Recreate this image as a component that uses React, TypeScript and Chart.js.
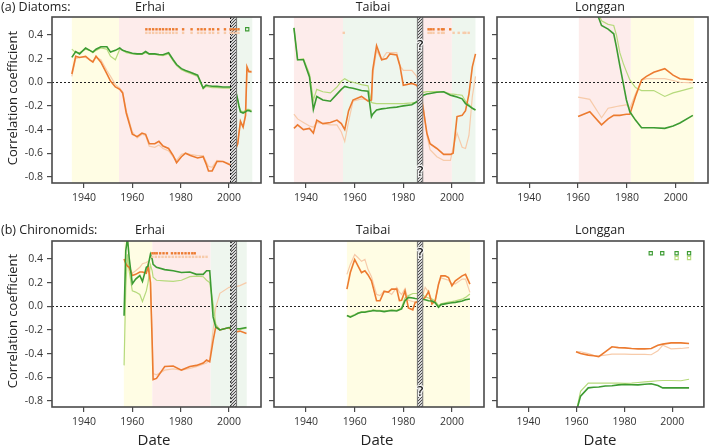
import React, { useEffect, useRef } from "react";
import { Chart, registerables } from "chart.js";
Chart.register(...registerables);

const W = 709;
const H = 446;
const X_MIN = 1926.8;
const X_MAX = 2013.2;
const Y_MIN = -0.852;
const Y_MAX = 0.552;
const xTicks = [1940, 1960, 1980, 2000];
const yTicks = [-0.8, -0.6, -0.4, -0.2, 0, 0.2, 0.4];

// ---------- (a) Diatoms, Erhai ----------
const p1Years = [1935, 1936.6, 1938.2, 1940.7, 1942.4, 1943.7, 1945, 1947, 1949.5, 1951, 1953, 1954.8, 1956, 1957.5, 1960, 1962, 1964, 1965.5, 1967, 1969.3, 1971, 1972.7, 1975, 1976.9, 1978.3, 1980.3, 1982, 1984, 1987, 1989.3, 1990.5, 1991.5, 1993, 1995, 1997.5, 2000.5, 2001.7, 2003, 2003.6, 2004.1, 2004.7, 2005.8, 2006.8, 2007.4, 2008.2, 2009.3];
const p1DarkOrange = [0.07, 0.22, 0.21, 0.22, 0.19, 0.17, 0.22, 0.17, 0.07, 0.01, -0.04, -0.06, -0.09, -0.26, -0.44, -0.46, -0.43, -0.44, -0.52, -0.52, -0.5, -0.54, -0.56, -0.62, -0.68, -0.63, -0.6, -0.62, -0.64, -0.63, -0.69, -0.75, -0.75, -0.67, -0.67, -0.7, -0.7, -0.55, -0.52, -0.43, -0.33, -0.38, -0.28, 0.13, 0.09, 0.09];
const p1LightOrange = [0.05, 0.2, 0.21, 0.21, 0.19, 0.18, 0.21, 0.19, 0.1, 0.05, -0.02, -0.05, -0.08, -0.24, -0.42, -0.47, -0.44, -0.45, -0.54, -0.55, -0.53, -0.56, -0.58, -0.63, -0.66, -0.61, -0.6, -0.61, -0.62, -0.62, -0.67, -0.71, -0.72, -0.66, -0.67, -0.69, -0.69, -0.56, -0.5, -0.42, -0.34, -0.37, -0.29, 0.1, 0.09, 0.08];
const p1DarkGreen = [0.21, 0.26, 0.24, 0.29, 0.27, 0.255, 0.28, 0.3, 0.3, 0.255, 0.27, 0.29, 0.27, 0.26, 0.245, 0.24, 0.24, 0.26, 0.24, 0.24, 0.235, 0.233, 0.25, 0.19, 0.15, 0.115, 0.1, 0.085, 0.06, -0.05, -0.025, -0.03, -0.034, -0.035, -0.04, -0.04, -0.045, -0.095, -0.15, -0.2, -0.25, -0.26, -0.25, -0.24, -0.24, -0.25];
const p1LightGreen = [0.28, 0.25, 0.25, 0.28, 0.27, 0.25, 0.27, 0.29, 0.28, 0.22, 0.19, 0.28, 0.27, 0.25, 0.24, 0.235, 0.235, 0.25, 0.235, 0.235, 0.23, 0.225, 0.24, 0.18, 0.14, 0.105, 0.09, 0.075, 0.05, -0.055, -0.035, -0.04, -0.045, -0.045, -0.05, -0.05, -0.05, -0.1, -0.16, -0.21, -0.24, -0.25, -0.24, -0.23, -0.23, -0.24];
const p1SigOrange = [1965.8, 1967.2, 1968.6, 1970.0, 1971.4, 1972.7, 1974.1, 1975.5, 1976.9, 1978.3, 1981.0, 1984.5, 1987.2, 1988.6, 1990.0, 1992.0, 1993.4, 1995.5, 1998.3, 2000.6, 2001.7, 2002.8, 2003.9];
const p1SigGreen = [2007.5];
const p1Bands: [number, number, string][] = [[1935, 1954.5, "yellow"], [1954.5, 2000.6, "pink"], [2003.1, 2009.6, "mint"]];
const p1Hatch: [number, number][] = [[2000.6, 2003.1]];

// ---------- (a) Diatoms, Taibai ----------
const p2Years = [1935, 1936.5, 1938.9, 1941.4, 1943, 1944.4, 1946.9, 1950, 1952.7, 1954.5, 1955.9, 1957.5, 1959.3, 1962.8, 1965.5, 1966.9, 1967.4, 1969, 1971.1, 1973.1, 1974.5, 1977.3, 1978.6, 1980, 1983.5, 1985.5, 1986.9, 1988.3, 1989.7, 1991, 1993.8, 1996.6, 1999.4, 2000.5, 2002.1, 2004.2, 2005.6, 2007, 2008.4, 2009.7];
const p2DarkOrange = [-0.39, -0.36, -0.4, -0.39, -0.43, -0.32, -0.35, -0.34, -0.32, -0.35, -0.4, -0.24, -0.15, -0.12, -0.16, -0.15, 0.1, 0.31, 0.19, 0.2, 0.24, 0.23, 0.14, -0.025, -0.01, -0.025, -0.08, -0.24, -0.43, -0.52, -0.56, -0.61, -0.61, -0.6, -0.29, -0.28, -0.24, -0.1, 0.13, 0.24];
const p2LightOrange = [-0.27, -0.31, -0.34, -0.37, -0.38, -0.34, -0.35, -0.36, -0.36, -0.42, -0.5, -0.33, -0.16, -0.14, -0.15, -0.14, 0.06, 0.27, 0.19, 0.25, 0.25, 0.25, 0.14, 0.1, 0.1, 0.05, -0.04, -0.21, -0.45, -0.57, -0.63, -0.66, -0.66, -0.55, -0.43, -0.55, -0.56, -0.45, -0.12, 0.05];
const p2DarkGreen = [0.46, 0.19, 0.19, 0.045, -0.23, -0.12, -0.15, -0.16, -0.1, -0.06, -0.035, -0.045, -0.05, -0.07, -0.075, -0.29, -0.27, -0.235, -0.225, -0.22, -0.215, -0.21, -0.205, -0.2, -0.19, -0.165, -0.14, -0.11, -0.1, -0.095, -0.085, -0.08, -0.11, -0.115, -0.125, -0.14, -0.18, -0.2, -0.22, -0.235];
const p2LightGreen = [0.46, 0.19, 0.2, 0.07, -0.15, -0.06, -0.08, -0.09, -0.04, 0.01, 0.03, 0.01, 0, -0.02, -0.03, -0.17, -0.175, -0.18, -0.18, -0.18, -0.18, -0.18, -0.18, -0.18, -0.175, -0.17, -0.11, -0.085, -0.08, -0.08, -0.08, -0.08, -0.1, -0.1, -0.105, -0.11, -0.16, -0.19, -0.22, -0.235];
const p2SigOrange = [1990.4, 1991.3, 1992.4, 1994.5, 1995.9, 1996.6, 1999.3];
const p2SigLightOrange = [1955.5, 1990.4, 1991.3, 1992.4, 1994.5, 1995.9, 1996.6, 2000.7, 2002.8, 2004.8, 2005.5, 2006.9];
const p2Bands: [number, number, string][] = [[1935, 1955.2, "pink"], [1955.2, 1985.8, "mint"], [1988, 2000, "pink"], [2000, 2009.7, "mint"]];
const p2Hatch: [number, number][] = [[1985.8, 1988]];
const p2Questions: [number, number][] = [[1987.0, 0.3], [1987.0, -0.76]];

// ---------- (a) Diatoms, Longgan ----------
const p3Years = [1960, 1964.8, 1969.6, 1972.3, 1974.6, 1975.7, 1977.1, 1978.5, 1979.8, 1981.2, 1983.5, 1986, 1988, 1991, 1995.5, 1998.9, 2001.7, 2007];
const p3DarkOrange = [-0.29, -0.25, -0.36, -0.31, -0.28, -0.28, -0.28, -0.275, -0.27, -0.27, -0.12, 0.02, 0.05, 0.085, 0.115, 0.06, 0.03, 0.02];
const p3LightOrange = [-0.125, -0.145, -0.3, -0.22, -0.21, -0.205, -0.2, -0.195, -0.19, -0.22, -0.1, 0.015, 0.03, 0.03, 0.03, 0.015, 0, -0.005];
const p3DarkGreen = [0.9, 0.75, 0.48, 0.45, 0.41, 0.3, 0.14, -0.01, -0.15, -0.25, -0.32, -0.385, -0.385, -0.385, -0.39, -0.37, -0.345, -0.28];
const p3LightGreen = [0.9, 0.78, 0.52, 0.49, 0.48, 0.4, 0.25, 0.16, 0.09, 0.02, -0.045, -0.07, -0.07, -0.07, -0.12, -0.09, -0.075, -0.045];
const p3Bands: [number, number, string][] = [[1960.3, 1981.6, "pink"], [1981.6, 2007.5, "yellow"]];

// ---------- (b) Chironomids, Erhai ----------
const p4Years = [1956.6, 1957.3, 1958, 1958.7, 1960, 1961.4, 1963.1, 1964.2, 1965.8, 1966.5, 1967.5, 1968.2, 1968.6, 1970, 1973.4, 1976.9, 1980.3, 1983.8, 1986.5, 1989.3, 1990.7, 1992, 1993.4, 1994.5, 1996.2, 2000, 2001.7, 2004.5, 2007.2];
const p4DarkGreen = [-0.08, 0.47, 0.58, 0.41, 0.19, 0.23, 0.26, 0.21, 0.33, 0.34, 0.44, 0.4, 0.355, 0.33, 0.31, 0.3, 0.285, 0.29, 0.27, 0.27, 0.3, 0.3, -0.09, -0.175, -0.2, -0.18, -0.19, -0.19, -0.18];
const p4LightGreen = [-0.5, 0.16, 0.44, 0.3, 0.13, 0.12, 0.1, 0.04, 0.13, 0.2, 0.35, 0.3, 0.245, 0.22, 0.215, 0.21, 0.22, 0.25, 0.255, 0.25, 0.22, 0.2, 0.02, -0.15, -0.2, -0.18, -0.185, -0.195, -0.185];
const p4DarkOrange = [0.4, 0.36, 0.34, 0.33, 0.26, 0.27, 0.29, 0.29, 0.28, 0.34, 0.2, -0.3, -0.62, -0.61, -0.51, -0.505, -0.54, -0.51, -0.5, -0.48, -0.455, -0.47, -0.29, -0.175, -0.2, -0.18, -0.22, -0.21, -0.23];
const p4LightOrange = [0.4, 0.37, 0.35, 0.34, 0.28, 0.3, 0.33, 0.36, 0.37, 0.38, 0.25, -0.25, -0.57, -0.58, -0.54, -0.53, -0.54, -0.525, -0.51, -0.49, -0.48, -0.45, -0.2, -0.01, 0.11, 0.16, 0.16, 0.175, 0.2];
const p4SigOrange = [1968.3, 1969.2, 1970.1, 1971.5, 1972.9, 1974.3, 1976.4, 1977.8, 1979.2, 1980.6, 1982.0, 1983.4, 1984.8, 1985.8];
const p4SigLightOrange = [1968.3, 1969.7, 1971.1, 1972.5, 1973.9, 1975.3, 1976.7, 1978.1, 1979.5, 1980.9, 1982.3, 1983.7, 1985.1, 1986.5, 1987.9, 1989.3, 1990.7];
const p4Bands: [number, number, string][] = [[1956.5, 1968.3, "yellow"], [1968.3, 1992.4, "pink"], [1992.4, 2007.3, "mint"]];
const p4Hatch: [number, number][] = [[2000.7, 2003.1]];

// ---------- (b) Chironomids, Taibai ----------
const p5Years = [1956.8, 1958.2, 1960, 1961.4, 1962.8, 1964.2, 1965.5, 1966.9, 1967.6, 1969, 1970.4, 1972.1, 1973.8, 1975.2, 1977.3, 1978.4, 1979.3, 1980.7, 1982.1, 1983.9, 1984.9, 1986.9, 1989, 1990.4, 1991.8, 1993.1, 1994.5, 1995.5, 1997.2, 1998.6, 2000, 2001.4, 2004.2, 2005.6, 2007.4];
const p5DarkOrange = [0.145, 0.285, 0.396, 0.34, 0.285, 0.3, 0.265, 0.215, 0.16, 0.047, 0.047, 0.125, 0.12, 0.145, 0.145, 0.047, 0.05, 0.13, -0.014, -0.03, 0.033, 0.045, 0.075, 0.125, 0.02, 0.045, 0.187, 0.257, 0.257, 0.243, 0.173, 0.215, 0.257, 0.27, 0.187];
const p5LightOrange = [0.27, 0.354, 0.438, 0.41, 0.38, 0.396, 0.31, 0.25, 0.2, 0.1, 0.09, 0.13, 0.12, 0.1, 0.16, 0.12, 0.1, 0.15, 0.05, 0.04, 0.035, 0.02, 0.16, 0.12, 0.05, 0.04, 0.19, 0.24, 0.23, 0.22, 0.19, 0.19, 0.23, 0.23, 0.117];
const p5DarkGreen = [-0.078, -0.092, -0.075, -0.06, -0.05, -0.05, -0.045, -0.04, -0.036, -0.04, -0.04, -0.045, -0.04, -0.036, -0.04, -0.03, -0.022, 0.047, 0.075, 0.07, 0.065, 0.061, 0.055, 0.047, 0.045, 0.03, -0.008, 0.014, 0.02, 0.025, 0.03, 0.033, 0.045, 0.055, 0.061];
const p5LightGreen = [-0.078, -0.085, -0.07, -0.055, -0.045, -0.045, -0.04, -0.035, -0.03, -0.035, -0.035, -0.04, -0.035, -0.03, -0.035, -0.025, -0.01, 0.07, 0.09, 0.108, 0.108, 0.108, 0.08, 0.07, 0.06, 0.045, 0.005, 0.02, 0.03, 0.035, 0.04, 0.045, 0.06, 0.075, 0.103];
const p5Bands: [number, number, string][] = [[1956.8, 1985.8, "yellow"], [1988, 2007.4, "yellow"]];
const p5Hatch: [number, number][] = [[1985.8, 1988]];
const p5Questions: [number, number][] = [[1987.0, 0.44], [1987.0, -0.73]];

// ---------- (b) Chironomids, Longgan ----------
const p6Years = [1959.8, 1961.7, 1964.9, 1967.2, 1969.3, 1972, 1974.8, 1977.5, 1980.2, 1983, 1985.7, 1988.5, 1991.2, 1994, 1996, 1999.5, 2003.6, 2007];
const p6DarkOrange = [-0.385, -0.4, -0.413, -0.418, -0.427, -0.385, -0.343, -0.35, -0.352, -0.357, -0.36, -0.36, -0.357, -0.33, -0.32, -0.31, -0.31, -0.315];
const p6LightOrange = [-0.385, -0.385, -0.4, -0.415, -0.42, -0.413, -0.405, -0.405, -0.405, -0.407, -0.407, -0.407, -0.41, -0.377, -0.33, -0.36, -0.357, -0.35];
const p6DarkGreen = [-0.9, -0.76, -0.69, -0.685, -0.683, -0.675, -0.672, -0.665, -0.662, -0.664, -0.665, -0.66, -0.655, -0.67, -0.69, -0.69, -0.69, -0.69];
const p6LightGreen = [-0.9, -0.72, -0.65, -0.65, -0.65, -0.65, -0.65, -0.65, -0.652, -0.65, -0.645, -0.64, -0.635, -0.63, -0.628, -0.628, -0.63, -0.617];
const p6SigGreen = [1991, 1995.8, 2001.8, 2007];
const p6SigLightGreen = [2001.8, 2007];

const SIG_DARK = 0.448;
const SIG_LIGHT = 0.418;

const COLORS: Record<string, string> = {
  darkOrange: "#EC7B30",
  lightOrange: "#F7CBAA",
  darkGreen: "#3C9B32",
  lightGreen: "#B6DA7C",
  yellow: "#FFFDE4",
  pink: "#FDECEB",
  mint: "#EEF6EE",
};

type Mark = { years: number[]; y: number; color: string; open: boolean };
type Spec = {
  L: number; R: number; T: number; B: number;
  years: number[]; dg: number[]; dOr: number[]; lg: number[]; lOr: number[];
  bands: [number, number, string][];
  hatch: [number, number][];
  dotted: boolean;
  questions: [number, number][];
  marks: Mark[];
  yLabels: boolean;
};

const TOP = { T: 17, B: 183 };
const BOT = { T: 241, B: 407 };
const COLS = [{ L: 52, R: 261 }, { L: 274, R: 484 }, { L: 497, R: 708 }];

const SPECS: Spec[] = [
  { ...COLS[0], ...TOP, years: p1Years, dg: p1DarkGreen, dOr: p1DarkOrange, lg: p1LightGreen, lOr: p1LightOrange, bands: p1Bands, hatch: p1Hatch, dotted: true, questions: [], yLabels: true,
    marks: [
      { years: p1SigGreen, y: SIG_DARK, color: COLORS.darkGreen, open: true },
      { years: p1SigOrange, y: SIG_DARK, color: COLORS.darkOrange, open: false },
      { years: p1SigOrange, y: SIG_LIGHT, color: COLORS.lightOrange, open: false },
    ] },
  { ...COLS[1], ...TOP, years: p2Years, dg: p2DarkGreen, dOr: p2DarkOrange, lg: p2LightGreen, lOr: p2LightOrange, bands: p2Bands, hatch: p2Hatch, dotted: false, questions: p2Questions, yLabels: false,
    marks: [
      { years: p2SigOrange, y: SIG_DARK, color: COLORS.darkOrange, open: false },
      { years: p2SigLightOrange, y: SIG_LIGHT, color: COLORS.lightOrange, open: false },
    ] },
  { ...COLS[2], ...TOP, years: p3Years, dg: p3DarkGreen, dOr: p3DarkOrange, lg: p3LightGreen, lOr: p3LightOrange, bands: p3Bands, hatch: [], dotted: false, questions: [], yLabels: false, marks: [] },
  { ...COLS[0], ...BOT, years: p4Years, dg: p4DarkGreen, dOr: p4DarkOrange, lg: p4LightGreen, lOr: p4LightOrange, bands: p4Bands, hatch: p4Hatch, dotted: true, questions: [], yLabels: true,
    marks: [
      { years: p4SigOrange, y: SIG_DARK, color: COLORS.darkOrange, open: false },
      { years: p4SigLightOrange, y: SIG_LIGHT, color: COLORS.lightOrange, open: false },
    ] },
  { ...COLS[1], ...BOT, years: p5Years, dg: p5DarkGreen, dOr: p5DarkOrange, lg: p5LightGreen, lOr: p5LightOrange, bands: p5Bands, hatch: p5Hatch, dotted: false, questions: p5Questions, yLabels: false, marks: [] },
  { ...COLS[2], ...BOT, years: p6Years, dg: p6DarkGreen, dOr: p6DarkOrange, lg: p6LightGreen, lOr: p6LightOrange, bands: [], hatch: [], dotted: false, questions: [], yLabels: false,
    marks: [
      { years: p6SigGreen, y: SIG_DARK, color: COLORS.darkGreen, open: true },
      { years: p6SigLightGreen, y: SIG_LIGHT - 0.01, color: COLORS.lightGreen, open: true },
    ] },
];

const AXIS_W = 30;
const AXIS_H = 30;
const FONT = "'Open Sans', 'DejaVu Sans', sans-serif";

function makePattern(ctx: CanvasRenderingContext2D) {
  const pc = document.createElement("canvas");
  pc.width = 3;
  pc.height = 3;
  const g = pc.getContext("2d")!;
  g.fillStyle = "#d4d4d4";
  g.fillRect(0, 0, 3, 3);
  g.fillStyle = "#4c4c4c";
  g.fillRect(0, 2, 1, 1);
  g.fillRect(1, 1, 1, 1);
  g.fillRect(2, 0, 1, 1);
  return ctx.createPattern(pc, "repeat")!;
}

function Panel({ spec }: { spec: Spec }) {
  const ref = useRef<HTMLCanvasElement>(null);
  useEffect(() => {
    const canvas = ref.current!;
    const pts = (ys: number[]) => spec.years.map((x, i) => ({ x, y: ys[i] }));
    const markSets = spec.marks.map((m) => ({
      type: "line" as const,
      data: m.years.map((x) => ({ x, y: m.y })),
      showLine: false,
      pointStyle: "rect" as const,
      pointRadius: m.open ? 2.3 : 1.7,
      pointBackgroundColor: m.open ? "rgba(255,255,255,0)" : m.color,
      pointBorderColor: m.color,
      pointBorderWidth: m.open ? 1.1 : 0,
      clip: false as const,
    }));
    const lineDefs = [
      { data: pts(spec.dg), borderColor: COLORS.darkGreen, borderWidth: 1.6 },
      { data: pts(spec.dOr), borderColor: COLORS.darkOrange, borderWidth: 1.6 },
      { data: pts(spec.lg), borderColor: COLORS.lightGreen, borderWidth: 1.2 },
      { data: pts(spec.lOr), borderColor: COLORS.lightOrange, borderWidth: 1.2 },
    ].map((d) => ({ ...d, type: "line" as const, pointRadius: 0, tension: 0, fill: false }));
    const lastLineIndex = markSets.length;
    let pattern: CanvasPattern | null = null;

    const decor = {
      id: "decor",
      beforeDatasetsDraw(chart: any) {
        const { ctx, chartArea: a, scales } = chart;
        const x = scales.x, y = scales.y;
        ctx.save();
        for (const [b0, b1, c] of spec.bands) {
          const p0 = x.getPixelForValue(b0), p1 = x.getPixelForValue(b1);
          ctx.fillStyle = COLORS[c];
          ctx.fillRect(p0, a.top, p1 - p0, a.bottom - a.top);
        }
        const y0 = Math.round(y.getPixelForValue(0)) + 0.5;
        ctx.strokeStyle = "#222";
        ctx.lineWidth = 1;
        ctx.setLineDash([2, 2]);
        ctx.beginPath();
        ctx.moveTo(a.left, y0);
        ctx.lineTo(a.right, y0);
        ctx.stroke();
        ctx.restore();
      },
      afterDatasetDraw(chart: any, args: any) {
        if (args.index !== lastLineIndex) return;
        const { ctx, chartArea: a, scales } = chart;
        const x = scales.x, y = scales.y;
        if (!pattern) pattern = makePattern(ctx);
        ctx.save();
        for (const [h0, h1] of spec.hatch) {
          const p0 = x.getPixelForValue(h0), p1 = x.getPixelForValue(h1);
          ctx.fillStyle = pattern;
          ctx.fillRect(p0, a.top, p1 - p0, a.bottom - a.top);
          ctx.strokeStyle = "#777";
          ctx.lineWidth = 1;
          ctx.setLineDash([]);
          ctx.beginPath();
          ctx.moveTo(p1, a.top);
          ctx.lineTo(p1, a.bottom);
          if (!spec.dotted) {
            ctx.moveTo(p0, a.top);
            ctx.lineTo(p0, a.bottom);
          }
          ctx.stroke();
          if (spec.dotted) {
            ctx.strokeStyle = "#111";
            ctx.setLineDash([2, 2]);
            ctx.beginPath();
            ctx.moveTo(p0, a.top);
            ctx.lineTo(p0, a.bottom);
            ctx.stroke();
          }
        }
        ctx.setLineDash([]);
        ctx.font = "14px 'DejaVu Sans', sans-serif";
        ctx.textAlign = "center";
        ctx.textBaseline = "middle";
        ctx.lineJoin = "round";
        for (const [qx, qy] of spec.questions) {
          const px = x.getPixelForValue(qx), py = y.getPixelForValue(qy);
          ctx.strokeStyle = "rgba(255,255,255,0.85)";
          ctx.lineWidth = 2.5;
          ctx.strokeText("?", px, py);
          ctx.fillStyle = "#111";
          ctx.fillText("?", px, py);
        }
        ctx.restore();
      },
      afterDraw(chart: any) {
        const { ctx, chartArea: a } = chart;
        ctx.save();
        ctx.strokeStyle = "#4a4a4a";
        ctx.lineWidth = 1.6;
        ctx.strokeRect(a.left, a.top, a.right - a.left, a.bottom - a.top);
        ctx.restore();
      },
    };

    const chart = new Chart(canvas, {
      type: "line",
      data: { datasets: [...markSets, ...lineDefs] as any },
      options: {
        animation: false,
        responsive: false,
        devicePixelRatio: 1,
        events: [],
        layout: {
          padding: {
            left: spec.L - AXIS_W,
            right: W - spec.R,
            top: spec.T,
            bottom: H - spec.B - AXIS_H,
          },
        },
        plugins: { legend: { display: false }, tooltip: { enabled: false }, title: { display: false } },
        scales: {
          x: {
            type: "linear",
            min: X_MIN,
            max: X_MAX,
            afterBuildTicks: (s: any) => { s.ticks = xTicks.map((v) => ({ value: v })); },
            afterFit: (s: any) => { s.height = AXIS_H; },
            grid: { display: true, drawOnChartArea: false, drawTicks: true, tickLength: 5, color: "#4a4a4a", lineWidth: 1.2 },
            border: { display: false },
            ticks: { autoSkip: false, maxRotation: 0, padding: 4, color: "#333", font: { family: FONT, size: 10.5 }, callback: (v: any) => String(v) },
          },
          y: {
            type: "linear",
            min: Y_MIN,
            max: Y_MAX,
            afterBuildTicks: (s: any) => { s.ticks = yTicks.map((v) => ({ value: v })); },
            afterFit: (s: any) => { s.width = AXIS_W; },
            grid: { display: true, drawOnChartArea: false, drawTicks: true, tickLength: 5, color: "#4a4a4a", lineWidth: 1.2 },
            border: { display: false },
            ticks: { display: spec.yLabels, padding: 4, color: "#333", font: { family: FONT, size: 10.5 }, callback: (v: any) => Number(v).toFixed(1) },
          },
        },
      },
      plugins: [decor],
    } as any);
    return () => chart.destroy();
  }, [spec]);
  return <canvas ref={ref} width={W} height={H} style={{ position: "absolute", left: 0, top: 0, width: W, height: H, pointerEvents: "none" }} />;
}

const titleStyle = (left: number, top: number, center: boolean, size: number): React.CSSProperties => ({
  position: "absolute",
  left,
  top,
  transform: center ? "translate(-50%, -50%)" : "translate(0, -50%)",
  fontFamily: FONT,
  fontSize: size,
  color: "#222",
  whiteSpace: "nowrap",
  lineHeight: 1,
});

export default function App() {
  return (
    <div style={{ position: "absolute", left: 0, top: 0, width: W, height: H, background: "#fff", overflow: "hidden" }}>
      {SPECS.map((s, i) => <Panel key={i} spec={s} />)}
      <div style={titleStyle(1, 7, false, 12.5)}>(a) Diatoms:</div>
      <div style={titleStyle(1, 230, false, 12.5)}>(b) Chironomids:</div>
      <div style={titleStyle(150, 7, true, 12.5)}>Erhai</div>
      <div style={titleStyle(373, 7, true, 12.5)}>Taibai</div>
      <div style={titleStyle(600, 7, true, 12.5)}>Longgan</div>
      <div style={titleStyle(150, 230, true, 12.5)}>Erhai</div>
      <div style={titleStyle(373, 230, true, 12.5)}>Taibai</div>
      <div style={titleStyle(600, 230, true, 12.5)}>Longgan</div>
      <div style={{ ...titleStyle(12, 98, true, 13), transform: "translate(-50%, -50%) rotate(-90deg)" }}>Correlation coefficient</div>
      <div style={{ ...titleStyle(12, 321, true, 13), transform: "translate(-50%, -50%) rotate(-90deg)" }}>Correlation coefficient</div>
      <div style={titleStyle(154, 439, true, 15)}>Date</div>
      <div style={titleStyle(377, 439, true, 15)}>Date</div>
      <div style={titleStyle(600, 439, true, 15)}>Date</div>
    </div>
  );
}
